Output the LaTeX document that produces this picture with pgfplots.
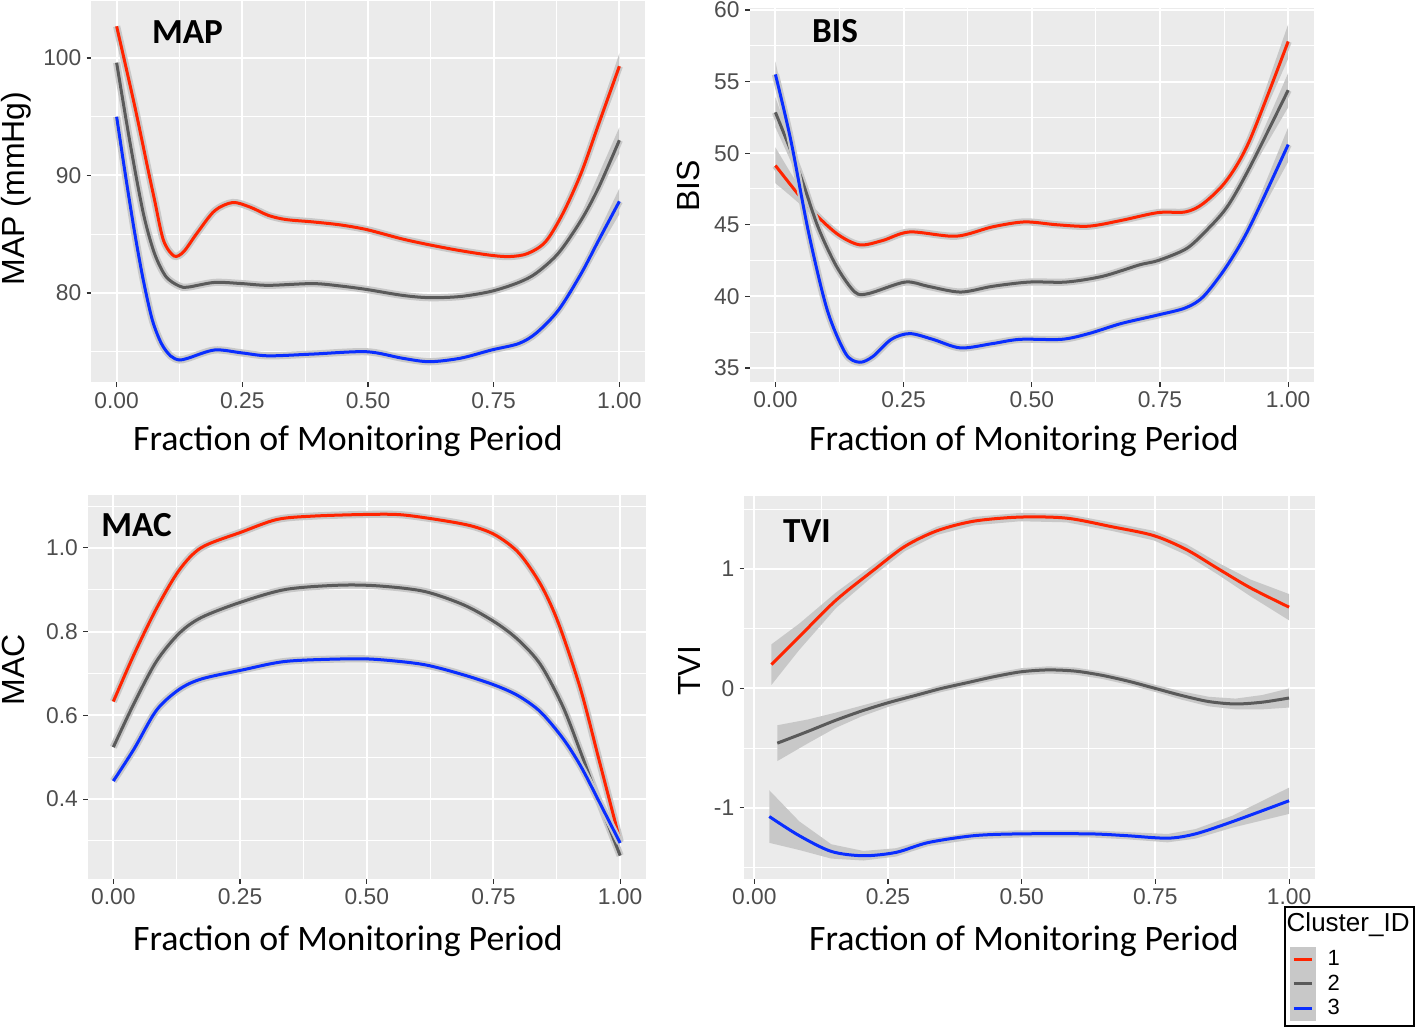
\documentclass[border=0pt]{standalone}
\usepackage{fontspec}
\setmainfont{Liberation Sans}
\newfontfamily\carlito{Carlito}
\usepackage{pgfplots}
\pgfplotsset{compat=1.18}

\definecolor{ggbg}{HTML}{EBEBEB}
\definecolor{cA}{HTML}{FF2400}
\definecolor{cB}{HTML}{5A5A5A}
\definecolor{cC}{HTML}{0A2EFF}
\definecolor{band}{HTML}{C8C8C8}
\definecolor{ticklab}{HTML}{4D4D4D}
\definecolor{tickcol}{HTML}{333333}

\tikzset{ptitle/.style={anchor=base west, inner sep=0pt, font=\carlito\bfseries\fontsize{17.6}{19}\selectfont}}
\pgfplotsset{
  ggpanel/.style={
    scale only axis,
    axis background/.style={fill=ggbg},
    axis line style={draw=none},
    grid=both,
    major grid style={white, line width=1pt},
    minor grid style={white, line width=0.5pt},
    tick align=outside,
    major tick length=2.4pt,
    minor tick length=0pt,
    tick style={color=tickcol, line width=0.55pt},
    xtick pos=left, ytick pos=left,
    xtick={0,0.25,0.5,0.75,1},
    xticklabels={0.00,0.25,0.50,0.75,1.00},
    minor xtick={0.125,0.375,0.625,0.875},
    xticklabel style={font=\fontsize{11.4}{12}\selectfont, color=ticklab, inner sep=0pt, anchor=north, yshift=-2.25pt},
    yticklabel style={font=\fontsize{11.4}{12}\selectfont, color=ticklab, inner sep=0pt, anchor=east, xshift=-2.5pt},
    xlabel={Fraction of Monitoring Period},
    xlabel style={font=\carlito\fontsize{17.9}{19}\selectfont, anchor=base},
    ylabel style={font=\fontsize{16}{18}\selectfont, anchor=base},
    clip=true,
  },
  halo/.style={band, line width=3.6pt, smooth, forget plot, no markers},
  cur/.style={line width=1.5pt, smooth, no markers},
  bnd/.style={fill=band, draw=none, forget plot},
}

\begin{document}
\begin{tikzpicture}
\path[use as bounding box] (0,0) rectangle (709.5pt,513.5pt);

% ---------------- MAP ----------------
\begin{axis}[ggpanel, at={(45.75pt,322.3pt)}, anchor=south west,
  width=276.5pt, height=190.8pt,
  xmin=-0.05, xmax=1.05, ymin=72.39, ymax=104.87,
  ytick={80,90,100}, yticklabels={80,90,100}, minor ytick={75,85,95},
  ylabel={MAP (mmHg)},
  xlabel style={at={(axis description cs:0.4638,-0.1798)}},
  ylabel style={at={(axis description cs:-0.1203,0.508)}},
]
\addplot[bnd] coordinates {(0.924,90.7)(1,100.4)(1,98.2)(0.924,89.7)} -- cycle;
\addplot[bnd] coordinates {(0.924,86.7)(1,94.1)(1,91.9)(0.924,85.7)} -- cycle;
\addplot[bnd] coordinates {(0.924,82.1)(1,88.9)(1,86.7)(0.924,81.2)} -- cycle;
\addplot[halo] coordinates {(0,102.7)(0.0355,96.0)(0.062,90.6)(0.0755,87.9)(0.093,84.5)(0.114,83.15)(0.133,83.5)(0.16,85.1)(0.195,87.0)(0.231,87.7)(0.266,87.3)(0.302,86.6)(0.337,86.25)(0.39,86.05)(0.444,85.8)(0.497,85.4)(0.568,84.6)(0.622,84.1)(0.684,83.6)(0.746,83.2)(0.782,83.1)(0.817,83.35)(0.853,84.35)(0.888,86.8)(0.924,90.2)(0.959,94.4)(1,99.3)};
\addplot[cur, cA] coordinates {(0,102.7)(0.0355,96.0)(0.062,90.6)(0.0755,87.9)(0.093,84.5)(0.114,83.15)(0.133,83.5)(0.16,85.1)(0.195,87.0)(0.231,87.7)(0.266,87.3)(0.302,86.6)(0.337,86.25)(0.39,86.05)(0.444,85.8)(0.497,85.4)(0.568,84.6)(0.622,84.1)(0.684,83.6)(0.746,83.2)(0.782,83.1)(0.817,83.35)(0.853,84.35)(0.888,86.8)(0.924,90.2)(0.959,94.4)(1,99.3)};
\addplot[halo] coordinates {(0,99.6)(0.027,92.7)(0.053,86.8)(0.075,83.4)(0.098,81.4)(0.124,80.6)(0.142,80.5)(0.195,80.9)(0.249,80.8)(0.302,80.65)(0.39,80.8)(0.444,80.6)(0.497,80.3)(0.568,79.8)(0.622,79.6)(0.684,79.7)(0.746,80.15)(0.8,80.9)(0.835,81.7)(0.879,83.4)(0.924,86.2)(0.959,89.0)(1,93.0)};
\addplot[cur, cB] coordinates {(0,99.6)(0.027,92.7)(0.053,86.8)(0.075,83.4)(0.098,81.4)(0.124,80.6)(0.142,80.5)(0.195,80.9)(0.249,80.8)(0.302,80.65)(0.39,80.8)(0.444,80.6)(0.497,80.3)(0.568,79.8)(0.622,79.6)(0.684,79.7)(0.746,80.15)(0.8,80.9)(0.835,81.7)(0.879,83.4)(0.924,86.2)(0.959,89.0)(1,93.0)};
\addplot[halo] coordinates {(0,95.0)(0.018,89.9)(0.036,85.1)(0.053,81.1)(0.071,77.7)(0.089,75.7)(0.107,74.65)(0.124,74.3)(0.142,74.45)(0.195,75.15)(0.249,74.9)(0.302,74.65)(0.39,74.8)(0.497,75.0)(0.568,74.45)(0.622,74.15)(0.684,74.45)(0.746,75.15)(0.8,75.7)(0.835,76.6)(0.879,78.55)(0.924,81.65)(0.959,84.5)(1,87.8)};
\addplot[cur, cC] coordinates {(0,95.0)(0.018,89.9)(0.036,85.1)(0.053,81.1)(0.071,77.7)(0.089,75.7)(0.107,74.65)(0.124,74.3)(0.142,74.45)(0.195,75.15)(0.249,74.9)(0.302,74.65)(0.39,74.8)(0.497,75.0)(0.568,74.45)(0.622,74.15)(0.684,74.45)(0.746,75.15)(0.8,75.7)(0.835,76.6)(0.879,78.55)(0.924,81.65)(0.959,84.5)(1,87.8)};
\node[ptitle] at (rel axis cs:0.1089,0.8886) {MAP};
\end{axis}

% ---------------- BIS ----------------
\begin{axis}[ggpanel, at={(374.9pt,322.35pt)}, anchor=south west,
  width=282pt, height=187.3pt,
  xmin=-0.05, xmax=1.05, ymin=34.0, ymax=60.16,
  ytick={35,40,45,50,55,60}, yticklabels={35,40,45,50,55,60},
  minor ytick={37.5,42.5,47.5,52.5,57.5},
  ylabel={BIS},
  xlabel style={at={(axis description cs:0.4862,-0.1834)}},
  ylabel style={at={(axis description cs:-0.0888,0.525)}},
]
\addplot[bnd] coordinates {(0,50.4)(0.03,48.6)(0.065,46.6)(0.065,45.9)(0.03,47.0)(0,47.9)} -- cycle;
\addplot[bnd] coordinates {(0,53.9)(0.047,49.1)(0.047,48.1)(0,51.8)} -- cycle;
\addplot[bnd] coordinates {(0,56.4)(0.03,51.4)(0.03,50.4)(0,54.6)} -- cycle;
\addplot[bnd] coordinates {(0.925,51.3)(1,59.0)(1,56.6)(0.925,50.5)} -- cycle;
\addplot[bnd] coordinates {(0.925,49.4)(1,55.6)(1,53.2)(0.925,48.6)} -- cycle;
\addplot[bnd] coordinates {(0.925,45.25)(1,51.8)(1,49.4)(0.925,44.45)} -- cycle;
\addplot[halo] coordinates {(0,49.14)(0.065,46.24)(0.119,44.4)(0.164,43.6)(0.209,43.9)(0.262,44.5)(0.352,44.2)(0.423,44.85)(0.486,45.2)(0.549,45.0)(0.611,44.9)(0.674,45.3)(0.746,45.85)(0.8,45.9)(0.835,46.5)(0.88,48.1)(0.925,50.9)(1,57.8)};
\addplot[cur, cA] coordinates {(0,49.14)(0.065,46.24)(0.119,44.4)(0.164,43.6)(0.209,43.9)(0.262,44.5)(0.352,44.2)(0.423,44.85)(0.486,45.2)(0.549,45.0)(0.611,44.9)(0.674,45.3)(0.746,45.85)(0.8,45.9)(0.835,46.5)(0.88,48.1)(0.925,50.9)(1,57.8)};
\addplot[halo] coordinates {(0,52.85)(0.047,48.6)(0.083,44.85)(0.119,42.1)(0.155,40.3)(0.182,40.2)(0.253,41.0)(0.298,40.7)(0.361,40.3)(0.423,40.7)(0.495,41.0)(0.567,41.0)(0.638,41.4)(0.71,42.2)(0.746,42.5)(0.8,43.3)(0.835,44.4)(0.88,46.2)(0.925,49.0)(1,54.4)};
\addplot[cur, cB] coordinates {(0,52.85)(0.047,48.6)(0.083,44.85)(0.119,42.1)(0.155,40.3)(0.182,40.2)(0.253,41.0)(0.298,40.7)(0.361,40.3)(0.423,40.7)(0.495,41.0)(0.567,41.0)(0.638,41.4)(0.71,42.2)(0.746,42.5)(0.8,43.3)(0.835,44.4)(0.88,46.2)(0.925,49.0)(1,54.4)};
\addplot[halo] coordinates {(0,55.5)(0.03,50.9)(0.065,44.4)(0.101,39.05)(0.137,36.0)(0.164,35.4)(0.19,35.8)(0.226,37.0)(0.262,37.4)(0.307,37.0)(0.361,36.4)(0.423,36.7)(0.477,37.0)(0.558,37.0)(0.611,37.4)(0.674,38.1)(0.746,38.7)(0.8,39.2)(0.835,40.0)(0.88,42.1)(0.925,44.85)(1,50.6)};
\addplot[cur, cC] coordinates {(0,55.5)(0.03,50.9)(0.065,44.4)(0.101,39.05)(0.137,36.0)(0.164,35.4)(0.19,35.8)(0.226,37.0)(0.262,37.4)(0.307,37.0)(0.361,36.4)(0.423,36.7)(0.477,37.0)(0.558,37.0)(0.611,37.4)(0.674,38.1)(0.746,38.7)(0.8,39.2)(0.835,40.0)(0.88,42.1)(0.925,44.85)(1,50.6)};
\node[ptitle] at (rel axis cs:0.1098,0.9066) {BIS};
\end{axis}

% ---------------- MAC ----------------
\begin{axis}[ggpanel, at={(44pt,74pt)}, anchor=south west,
  width=278.75pt, height=191.9pt,
  xmin=-0.05, xmax=1.05, ymin=0.209, ymax=1.126,
  ytick={0.4,0.6,0.8,1.0}, yticklabels={0.4,0.6,0.8,1.0},
  minor ytick={0.3,0.5,0.7,0.9,1.1},
  ylabel={MAC},
  xlabel style={at={(axis description cs:0.4664,-0.185)}},
  ylabel style={at={(axis description cs:-0.1135,0.5446)}},
]
\addplot[halo] coordinates {(0,0.633)(0.041,0.746)(0.085,0.855)(0.13,0.947)(0.174,1.001)(0.253,1.038)(0.323,1.068)(0.394,1.076)(0.5,1.08)(0.57,1.079)(0.658,1.064)(0.711,1.051)(0.755,1.03)(0.8,0.988)(0.843,0.913)(0.878,0.821)(0.922,0.662)(0.958,0.495)(1,0.299)};
\addplot[cur, cA] coordinates {(0,0.633)(0.041,0.746)(0.085,0.855)(0.13,0.947)(0.174,1.001)(0.253,1.038)(0.323,1.068)(0.394,1.076)(0.5,1.08)(0.57,1.079)(0.658,1.064)(0.711,1.051)(0.755,1.03)(0.8,0.988)(0.843,0.913)(0.878,0.821)(0.922,0.662)(0.958,0.495)(1,0.299)};
\addplot[halo] coordinates {(0,0.524)(0.041,0.629)(0.085,0.729)(0.13,0.796)(0.174,0.834)(0.253,0.871)(0.341,0.901)(0.447,0.911)(0.526,0.909)(0.614,0.896)(0.693,0.863)(0.755,0.821)(0.8,0.779)(0.843,0.721)(0.887,0.621)(0.922,0.512)(0.958,0.395)(1,0.265)};
\addplot[cur, cB] coordinates {(0,0.524)(0.041,0.629)(0.085,0.729)(0.13,0.796)(0.174,0.834)(0.253,0.871)(0.341,0.901)(0.447,0.911)(0.526,0.909)(0.614,0.896)(0.693,0.863)(0.755,0.821)(0.8,0.779)(0.843,0.721)(0.887,0.621)(0.922,0.512)(0.958,0.395)(1,0.265)};
\addplot[halo] coordinates {(0,0.443)(0.041,0.52)(0.085,0.612)(0.13,0.662)(0.174,0.687)(0.253,0.708)(0.341,0.729)(0.464,0.735)(0.526,0.733)(0.614,0.721)(0.693,0.696)(0.755,0.671)(0.8,0.646)(0.843,0.608)(0.887,0.545)(0.922,0.479)(0.958,0.395)(1,0.295)};
\addplot[cur, cC] coordinates {(0,0.443)(0.041,0.52)(0.085,0.612)(0.13,0.662)(0.174,0.687)(0.253,0.708)(0.341,0.729)(0.464,0.735)(0.526,0.733)(0.614,0.721)(0.693,0.696)(0.755,0.671)(0.8,0.646)(0.843,0.608)(0.887,0.545)(0.922,0.479)(0.958,0.395)(1,0.295)};
\node[ptitle] at (rel axis cs:0.0233,0.8919) {MAC};
\end{axis}

% ---------------- TVI ----------------
\begin{axis}[ggpanel, at={(372.2pt,74.1pt)}, anchor=south west,
  width=285.3pt, height=191.55pt,
  xmin=-0.0185, xmax=1.0485, ymin=-1.593, ymax=1.613,
  ytick={-1,0,1}, yticklabels={-1,0,1},
  minor ytick={-1.5,-0.5,0.5,1.5},
  ylabel={TVI},
  xlabel style={at={(axis description cs:0.49,-0.1859)}},
  ylabel style={at={(axis description cs:-0.0778,0.5424)}},
  legend image code/.code={%
    \fill[band] (0pt,-5.5pt) rectangle (11.5pt,5.5pt);
    \draw[#1, line width=1.5pt] (1.3pt,0pt) -- (10.2pt,0pt);
  },
  legend style={at={(axis description cs:0.9457,-0.0715)}, anchor=north west,
    draw=black, line width=1pt, fill=white, inner xsep=2.35pt, inner ysep=2.5pt,
    font=\fontsize{11}{12}\selectfont, row sep=-0.3pt, column sep=6pt,
    nodes={inner sep=0pt}, cells={anchor=west}},
]
\addlegendimage{empty legend}
\addlegendentry{\fontsize{13}{14}\selectfont\hspace*{-20.5pt}\raisebox{6.75pt}{Cluster\_ID}}
% bands
\addplot[bnd] coordinates {(0.032,0.369)(0.084,0.542)(0.153,0.804)(0.226,1.045)(0.282,1.23)(0.342,1.355)(0.411,1.435)(0.497,1.469)(0.584,1.46)(0.67,1.387)(0.747,1.319)(0.808,1.207)(0.868,1.05)(0.928,0.911)(1,0.79)(1,0.57)(0.928,0.771)(0.868,0.95)(0.808,1.117)(0.747,1.239)(0.67,1.317)(0.584,1.39)(0.497,1.399)(0.411,1.365)(0.342,1.285)(0.282,1.15)(0.226,0.955)(0.153,0.674)(0.084,0.322)(0.032,0.029)} -- cycle;
\addplot[bnd] coordinates {(0.043,-0.308)(0.1,-0.26)(0.15,-0.205)(0.2,-0.145)(0.25,-0.085)(0.3,-0.03)(0.35,0.03)(0.4,0.08)(0.45,0.13)(0.5,0.17)(0.55,0.185)(0.6,0.175)(0.65,0.14)(0.7,0.09)(0.75,0.03)(0.8,-0.025)(0.85,-0.07)(0.9,-0.085)(0.95,-0.055)(1,0.0)(1,-0.16)(0.95,-0.175)(0.9,-0.175)(0.85,-0.15)(0.8,-0.095)(0.75,-0.03)(0.7,0.03)(0.65,0.08)(0.6,0.115)(0.55,0.125)(0.5,0.11)(0.45,0.07)(0.4,0.02)(0.35,-0.03)(0.3,-0.09)(0.25,-0.155)(0.2,-0.235)(0.15,-0.335)(0.1,-0.46)(0.043,-0.608)} -- cycle;
\addplot[bnd] coordinates {(0.028,-0.852)(0.084,-1.112)(0.144,-1.304)(0.204,-1.36)(0.265,-1.337)(0.325,-1.26)(0.411,-1.202)(0.497,-1.187)(0.627,-1.187)(0.696,-1.202)(0.773,-1.218)(0.825,-1.177)(0.894,-1.065)(1,-0.83)(1,-1.05)(0.894,-1.165)(0.825,-1.257)(0.773,-1.288)(0.696,-1.262)(0.627,-1.247)(0.497,-1.247)(0.411,-1.262)(0.325,-1.32)(0.265,-1.407)(0.204,-1.44)(0.144,-1.424)(0.084,-1.352)(0.028,-1.292)} -- cycle;
% lines
\addplot[cur, cA] coordinates {(0.032,0.199)(0.084,0.432)(0.153,0.739)(0.226,1.0)(0.282,1.19)(0.342,1.32)(0.411,1.40)(0.497,1.434)(0.584,1.425)(0.67,1.352)(0.747,1.279)(0.808,1.162)(0.868,1.0)(0.928,0.841)(1,0.68)};
\addlegendentry{1}
\addplot[cur, cB] coordinates {(0.043,-0.458)(0.1,-0.36)(0.15,-0.27)(0.2,-0.19)(0.25,-0.12)(0.3,-0.06)(0.35,0.0)(0.4,0.05)(0.45,0.1)(0.5,0.14)(0.55,0.155)(0.6,0.145)(0.65,0.11)(0.7,0.06)(0.75,0.0)(0.8,-0.06)(0.85,-0.11)(0.9,-0.13)(0.95,-0.115)(1,-0.08)};
\addlegendentry{2}
\addplot[cur, cC] coordinates {(0.028,-1.072)(0.084,-1.232)(0.144,-1.364)(0.204,-1.40)(0.265,-1.372)(0.325,-1.29)(0.411,-1.232)(0.497,-1.217)(0.627,-1.217)(0.696,-1.232)(0.773,-1.253)(0.825,-1.217)(0.894,-1.115)(1,-0.94)};
\addlegendentry{3}
\node[ptitle] at (rel axis cs:0.0671,0.8784) {TVI};
\end{axis}
\end{tikzpicture}
\end{document}
